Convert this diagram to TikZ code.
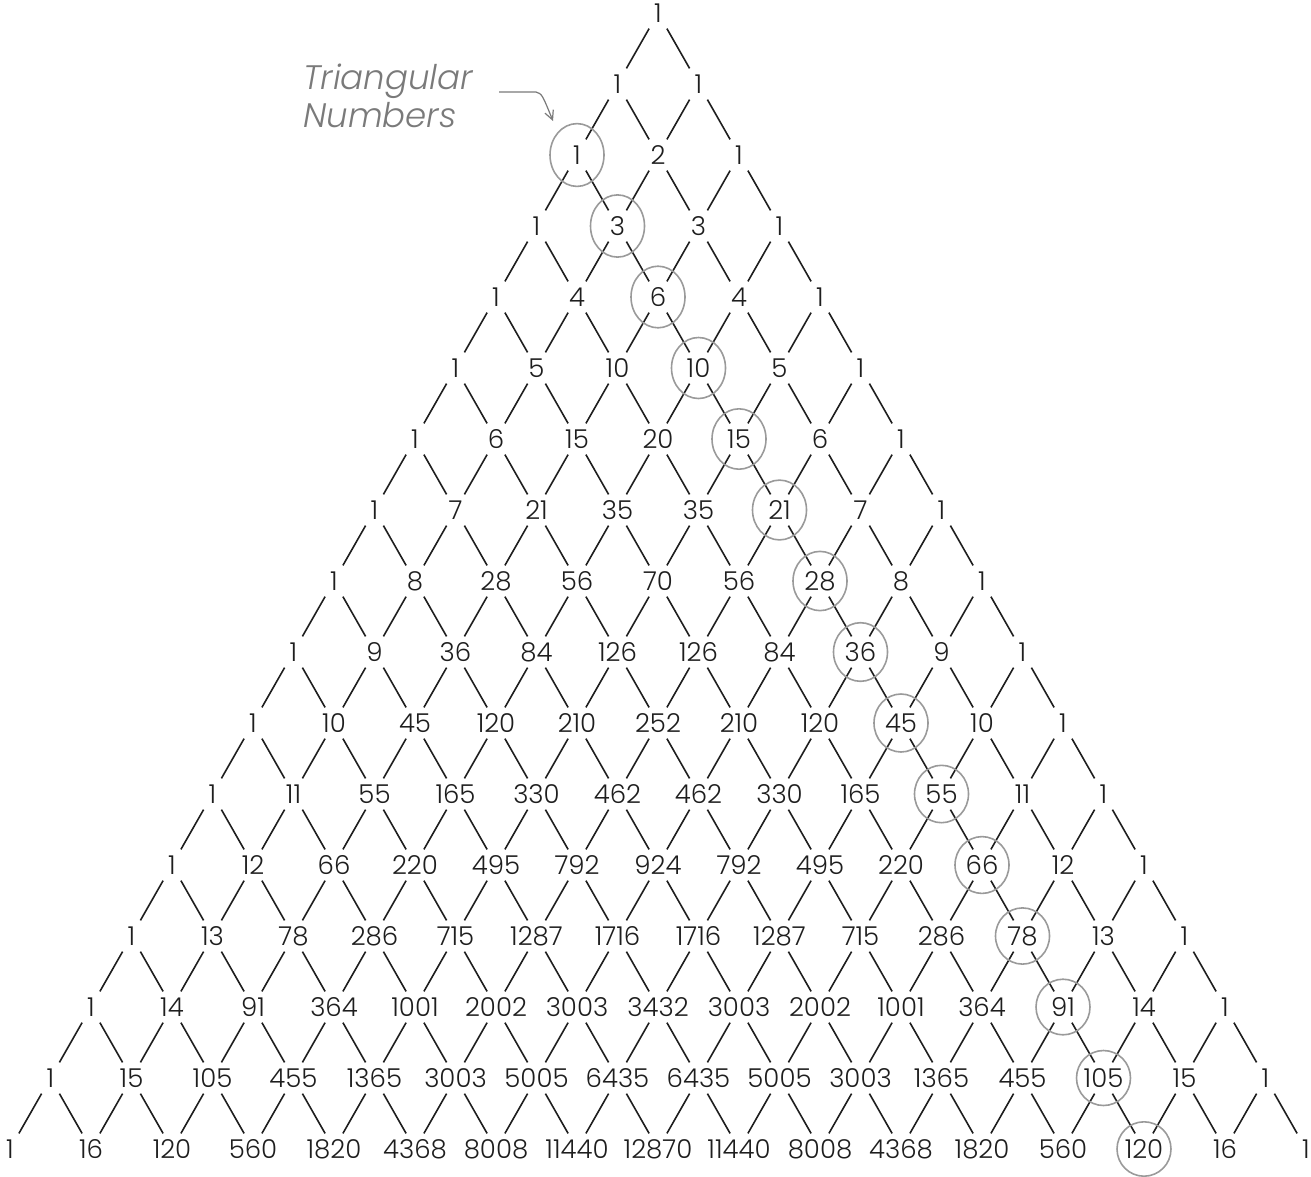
\documentclass[tikz,border=0pt]{standalone}
\usepackage{fontspec}
\setmainfont{Poppins}[UprightFont={* Light},ItalicFont={* Light Italic}]
\usetikzlibrary{arrows.meta}
\definecolor{ink}{HTML}{1E1E1E}
\definecolor{pencil}{HTML}{9A9A9A}
\definecolor{note}{HTML}{7A7A7A}
\tikzset{
  num/.style={inner sep=0pt, text=ink, font=\fontsize{26}{29}\selectfont},
  link/.style={draw=ink, line width=1.6pt, shorten <=18pt, shorten >=18pt},
  ring/.style={draw=pencil, line width=1.6pt},
  notetext/.style={text=note, font=\fontsize{34}{38}\selectfont\itshape, align=left, inner sep=0pt},
  notearrow/.style={draw=note, line width=1.2pt, -{Straight Barb[length=9pt,width=9pt]}}
}
\begin{document}
\begin{tikzpicture}[x=1pt,y=-1pt]
\useasboundingbox (0,0) rectangle (1311,1176);
\foreach \row [count=\m from 0] in {
 {1},
 {1,1},
 {1,2,1},
 {1,3,3,1},
 {1,4,6,4,1},
 {1,5,10,10,5,1},
 {1,6,15,20,15,6,1},
 {1,7,21,35,35,21,7,1},
 {1,8,28,56,70,56,28,8,1},
 {1,9,36,84,126,126,84,36,9,1},
 {1,10,45,120,210,252,210,120,45,10,1},
 {1,11,55,165,330,462,462,330,165,55,11,1},
 {1,12,66,220,495,792,924,792,495,220,66,12,1},
 {1,13,78,286,715,1287,1716,1716,1287,715,286,78,13,1},
 {1,14,91,364,1001,2002,3003,3432,3003,2002,1001,364,91,14,1},
 {1,15,105,455,1365,3003,5005,6435,6435,5005,3003,1365,455,105,15,1},
 {1,16,120,560,1820,4368,8008,11440,12870,11440,8008,4368,1820,560,120,16,1}}
{
  \foreach \v [count=\k from 0] in \row {
    \node[num] (r\m c\k) at ({658+(\k-\m/2)*81},{13+71*\m}) {\v};
  }
}
% lattice links
\foreach \m in {0,...,15} {
  \pgfmathtruncatemacro\mm{\m+1}
  \foreach \k in {0,...,\m} {
    \pgfmathtruncatemacro\kk{\k+1}
    \draw[link] (r\m c\k.center) -- (r\mm c\k.center);
    \draw[link] (r\m c\k.center) -- (r\mm c\kk.center);
  }
}
% triangular numbers circled
\foreach \m in {2,...,16} {
  \pgfmathtruncatemacro\k{\m-2}
  \pgfmathsetmacro\ry{32-0.3*\m}
  \draw[ring] (r\m c\k.center) ellipse [x radius=27pt, y radius=\ry pt];
}
% annotation
\node[notetext, anchor=north west] (note) at (303,64) {Triangular\\Numbers};
\coordinate (arrstart) at (499,92);
\coordinate (arrend) at (553,121);
\draw[notearrow] (arrstart) -- (536,92) .. controls (542,94) .. (arrend);
\end{tikzpicture}
\end{document}
